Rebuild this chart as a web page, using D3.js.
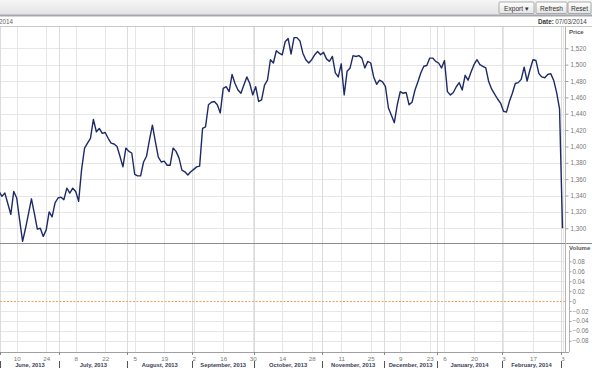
<!DOCTYPE html>
<html>
<head>
<meta charset="utf-8">
<script src="https://cdn.jsdelivr.net/npm/d3@7"></script>
<style>
body{margin:0;background:#fff;overflow:hidden}
svg{display:block;font-family:"Liberation Sans",Arial,sans-serif}
</style>
</head>
<body>
<svg id="chart"></svg>
<script>
// closing prices, one per trading day from 31 May 2013 to 3 Mar 2014
var prices = [
  1345,1339,1343,1330,1317,1345,1337,1310,1284,1300,
  1318,1336,1318,1299,1300,1290,1298,1320,1314,1331,
  1337,1338,1335,1349,1343,1349,1345,1333,1372,1398,
  1404,1410,1433,1418,1422,1416,1417,1410,1404,1403,
  1400,1388,1375,1398,1394,1392,1366,1364,1364,1381,
  1388,1408,1426,1406,1387,1381,1382,1377,1377,1398,
  1394,1386,1371,1369,1365,1369,1372,1375,1376,1422,
  1424,1451,1454,1455,1451,1441,1471,1473,1467,1488,
  1477,1469,1465,1475,1485,1477,1463,1473,1455,1457,
  1475,1481,1506,1502,1517,1514,1512,1528,1532,1513,
  1533,1533,1529,1514,1506,1502,1506,1512,1516,1512,
  1515,1507,1504,1510,1490,1485,1501,1463,1492,1496,
  1511,1510,1511,1508,1496,1504,1502,1485,1476,1481,
  1479,1473,1447,1438,1429,1451,1467,1465,1466,1451,
  1454,1469,1479,1490,1498,1499,1508,1508,1504,1502,
  1496,1505,1467,1463,1466,1473,1478,1469,1487,1481,
  1491,1500,1506,1500,1498,1496,1479,1470,1464,1458,
  1453,1443,1442,1455,1465,1477,1478,1482,1497,1480,
  1494,1506,1505,1489,1485,1484,1488,1489,1481,1466,
  1446,1300
];
var firstDay = "2013-05-31";
var lastDay = "2014-03-03";
var holidays = ["2013-12-24","2013-12-25","2013-12-26","2013-12-31","2014-01-01"];
var firstTick = "2013-06-10";
var priceTicks = [1300,1320,1340,1360,1380,1400,1420,1440,1460,1480,1500,1520];
var volumeTicks = [-0.08,-0.06,-0.04,-0.02,0,0.02,0.04,0.06,0.08];
var buttons = ["Export \u25BE","Refresh","Reset"];

var W = 592, H = 374;
var plot = {left:0, right:565, top:27, priceBottom:243, bottom:352};

var svg = d3.select("#chart").attr("width",W).attr("height",H);
var parse = d3.timeParse("%Y-%m-%d"), fmt = d3.timeFormat("%Y-%m-%d");

// trading calendar (weekdays without exchange holidays)
var days = d3.timeDay.range(parse(firstDay), d3.timeDay.offset(parse(lastDay),1))
    .filter(function(d){ return d.getDay()>0 && d.getDay()<6 && holidays.indexOf(fmt(d))<0; });

var x = d3.scaleLinear().domain([0,days.length-1]).range([-1,562.5]);
var step = x(1)-x(0);
var yP = d3.scaleLinear().domain([1282,1546]).range([plot.priceBottom,plot.top]);
var yV = d3.scaleLinear().domain([-0.1025,0.117]).range([plot.bottom,plot.priceBottom]);

var defs = svg.append("defs");
var tg = defs.append("linearGradient").attr("id","bar").attr("x1",0).attr("y1",0).attr("x2",0).attr("y2",1);
tg.append("stop").attr("offset",0).attr("stop-color","#f6f6f6");
tg.append("stop").attr("offset",1).attr("stop-color","#e2e2e2");
var bg = defs.append("linearGradient").attr("id","btn").attr("x1",0).attr("y1",0).attr("x2",0).attr("y2",1);
bg.append("stop").attr("offset",0).attr("stop-color","#ffffff");
bg.append("stop").attr("offset",1).attr("stop-color","#e4e4e4");
defs.append("clipPath").attr("id","clipP").append("rect")
    .attr("x",plot.left).attr("y",plot.top)
    .attr("width",plot.right-plot.left).attr("height",plot.priceBottom-plot.top);

// toolbar
svg.append("rect").attr("width",W).attr("height",15).attr("fill","url(#bar)");
svg.append("line").attr("x1",0).attr("x2",W).attr("y1",15.5).attr("y2",15.5)
    .attr("stroke","#a3a8ad").attr("stroke-width",2);
var btnX = [499,536,568], btnW = [35,31,23];
var btn = svg.append("g").selectAll("g").data(buttons).enter().append("g")
    .attr("transform",function(d,i){return "translate("+btnX[i]+",2)";});
btn.append("rect").attr("width",function(d,i){return btnW[i];}).attr("height",11.5)
    .attr("fill","url(#btn)").attr("stroke","#9a9a9a").attr("stroke-width",0.8).attr("rx",1);
btn.append("text").text(function(d){return d;})
    .attr("x",function(d,i){return btnW[i]/2;}).attr("y",8.5)
    .attr("text-anchor","middle").attr("font-size",6.6).attr("fill","#333");

// header row
svg.append("text").text("2014").attr("x",-1).attr("y",24).attr("font-size",6.3).attr("fill","#666");
var dt = svg.append("text").attr("x",538).attr("y",24).attr("font-size",6.3).attr("fill","#444");
dt.append("tspan").text("Date:").attr("font-weight","bold").attr("fill","#333");
dt.append("tspan").text("07/03/2014").attr("dx",1.5);
svg.append("line").attr("x1",0).attr("x2",W).attr("y1",26.5).attr("y2",26.5).attr("stroke","#c8c8c8");

// month boundaries and bi-weekly Monday ticks
var t0 = parse(firstTick);
var tickIdx = [], monthIdx = [];
days.forEach(function(d,i){
    var wk = Math.round((d-t0)/(7*864e5));
    if(d.getDay()===1 && d>=t0 && wk%2===0) tickIdx.push(i);
    if(i>0 && d.getMonth()!==days[i-1].getMonth()) monthIdx.push(i);
});
var sepX = monthIdx.map(function(i){return x(i)-step/2;});

// grid
var grid = svg.append("g").attr("stroke","#e6e6e6").attr("stroke-width",1);
grid.selectAll(".hp").data(priceTicks).enter().append("line")
    .attr("x1",plot.left).attr("x2",plot.right)
    .attr("y1",function(d){return Math.round(yP(d))+0.5;}).attr("y2",function(d){return Math.round(yP(d))+0.5;});
grid.selectAll(".hv").data(volumeTicks.filter(function(v){return v!==0;})).enter().append("line")
    .attr("x1",plot.left).attr("x2",plot.right)
    .attr("y1",function(d){return Math.round(yV(d))+0.5;}).attr("y2",function(d){return Math.round(yV(d))+0.5;});
grid.selectAll(".vt").data(tickIdx).enter().append("line")
    .attr("x1",function(i){return Math.round(x(i))+0.5;}).attr("x2",function(i){return Math.round(x(i))+0.5;})
    .attr("y1",plot.top).attr("y2",plot.bottom);
grid.selectAll(".vm").data(sepX).enter().append("line")
    .attr("stroke","#dcdcdc")
    .attr("x1",function(v){return Math.round(v)+0.5;}).attr("x2",function(v){return Math.round(v)+0.5;})
    .attr("y1",plot.top).attr("y2",plot.bottom);

// price line
var line = d3.line().x(function(d,i){return x(i);}).y(function(d){return yP(d);});
svg.append("path").datum(prices).attr("clip-path","url(#clipP)")
    .attr("d",line).attr("fill","none").attr("stroke","#1e2a66").attr("stroke-width",1.4)
    .attr("stroke-linejoin","round");

// volume zero line
svg.append("line").attr("x1",plot.left).attr("x2",plot.right)
    .attr("y1",Math.round(yV(0))+0.5).attr("y2",Math.round(yV(0))+0.5)
    .attr("stroke","#f0a060").attr("stroke-dasharray","2,1.5");

// panel borders
svg.append("line").attr("x1",0).attr("x2",W).attr("y1",plot.priceBottom+0.5).attr("y2",plot.priceBottom+0.5)
    .attr("stroke","#8c8c8c");
svg.append("line").attr("x1",plot.right+0.5).attr("x2",plot.right+0.5).attr("y1",plot.top).attr("y2",plot.bottom)
    .attr("stroke","#b4b4b4");

// right axes
var axisP = svg.append("g").attr("transform","translate("+(plot.right+0.5)+",0)")
    .call(d3.axisRight(yP).tickValues(priceTicks).tickSize(3).tickPadding(2).tickFormat(d3.format(",")));
var axisV = svg.append("g").attr("transform","translate("+(plot.right+4.5)+",0)")
    .call(d3.axisRight(yV).tickValues(volumeTicks).tickSize(2).tickPadding(1).tickFormat(function(v){return v===0?"0":d3.format(".2f")(v);}));
axisP.select(".domain").remove();
axisV.select(".domain").attr("stroke","#b4b4b4").attr("d","M0,"+(plot.priceBottom+7)+"V"+plot.bottom);
[axisP,axisV].forEach(function(a){
    a.selectAll(".tick line").attr("stroke","#a0a0a0");
    a.selectAll(".tick text").attr("font-size",6.3).attr("fill","#777").attr("font-family","Liberation Sans,Arial,sans-serif");
});
svg.append("text").text("Price").attr("x",569).attr("y",34).attr("font-size",6).attr("font-weight","bold").attr("fill","#555");
svg.append("text").text("Volume").attr("x",569).attr("y",250).attr("font-size",6).attr("font-weight","bold").attr("fill","#555");

// bottom date axis
var axisX = svg.append("g").attr("transform","translate(0,"+(plot.bottom+0.5)+")")
    .call(d3.axisBottom(x).tickValues(tickIdx).tickSize(0).tickPadding(4)
        .tickFormat(function(i){return days[i].getDate();}));
axisX.select(".domain").attr("stroke","#a0a0a0").attr("d","M0,0H"+(plot.right+4));
axisX.selectAll(".tick text").attr("font-size",6.2).attr("fill","#777").attr("font-family","Liberation Sans,Arial,sans-serif");

var months = svg.append("g");
months.selectAll("line").data(sepX).enter().append("line")
    .attr("x1",function(v){return Math.round(v)+0.5;}).attr("x2",function(v){return Math.round(v)+0.5;})
    .attr("y1",plot.bottom).attr("y2",plot.bottom+3).attr("stroke","#888");
months.selectAll(".sep").data(sepX).enter().append("line")
    .attr("x1",function(v){return Math.round(v)+0.5;}).attr("x2",function(v){return Math.round(v)+0.5;})
    .attr("y1",361).attr("y2",368).attr("stroke","#555");
var spans = monthIdx.map(function(m,k){
    var end = k+1<monthIdx.length ? sepX[k+1] : null;
    return {date:days[m], a:sepX[k], b:end};
}).filter(function(s){return s.b!==null;});
months.selectAll("text").data(spans).enter().append("text")
    .text(function(s){return d3.timeFormat("%B, %Y")(s.date);})
    .attr("x",function(s){return (s.a+s.b)/2;}).attr("y",367)
    .attr("text-anchor","middle").attr("font-size",5.8).attr("font-weight","bold").attr("fill","#3a4258");
</script>
</body>
</html>
